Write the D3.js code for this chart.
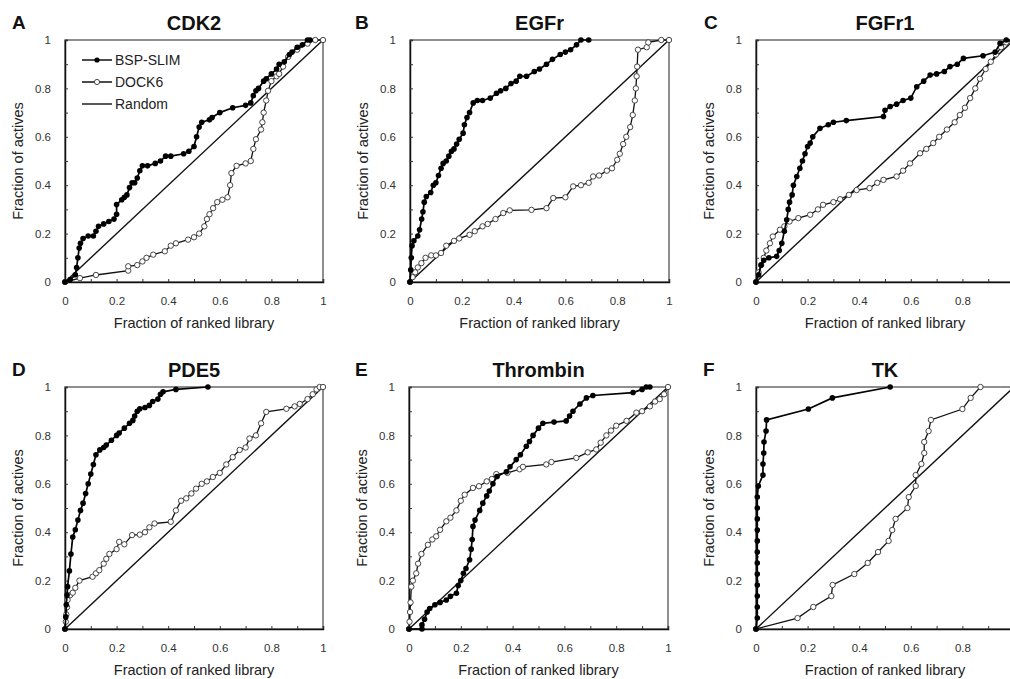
<!DOCTYPE html>
<html>
<head>
<meta charset="utf-8">
<script src="https://cdn.jsdelivr.net/npm/d3@7"></script>
<style>
  html, body { margin: 0; padding: 0; background: #fff; }
  svg { display: block; font-family: "Liberation Sans", Arial, sans-serif; }
</style>
</head>
<body>
<svg id="chart" width="1010" height="679"></svg>
<script>
// ---------- data ----------
const panelLetters = ["A", "B", "C", "D", "E", "F"];
const panelTitles = ["CDK2", "EGFr", "FGFr1", "PDE5", "Thrombin", "TK"];
const seriesNames = ["BSP-SLIM", "DOCK6", "Random"];
const majorTicks = [0, 0.2, 0.4, 0.6, 0.8, 1];
const tickLabels = ["0", "0.2", "0.4", "0.6", "0.8", "1"];
const minorTicks = [0, 0.1, 0.2, 0.3, 0.4, 0.5, 0.6, 0.7, 0.8, 0.9, 1];
const randomLine = [[0, 0], [1, 1]];

const cdk2Bsp = [[0,0],[0.02,0.01],[0.04,0.03],[0.045,0.06],[0.05,0.1],[0.055,0.14],[0.06,0.16],[0.07,0.18],[0.09,0.19],[0.11,0.19],[0.12,0.21],[0.13,0.23],[0.15,0.24],[0.17,0.25],[0.19,0.26],[0.2,0.28],[0.2,0.32],[0.22,0.34],[0.23,0.35],[0.24,0.36],[0.25,0.39],[0.26,0.41],[0.27,0.41],[0.28,0.43],[0.29,0.46],[0.3,0.48],[0.32,0.48],[0.35,0.49],[0.37,0.5],[0.39,0.52],[0.41,0.52],[0.46,0.53],[0.48,0.54],[0.5,0.56],[0.51,0.6],[0.52,0.64],[0.53,0.66],[0.56,0.67],[0.57,0.68],[0.6,0.7],[0.65,0.72],[0.7,0.73],[0.72,0.74],[0.73,0.77],[0.74,0.79],[0.75,0.8],[0.77,0.83],[0.78,0.84],[0.8,0.86],[0.82,0.88],[0.83,0.9],[0.85,0.91],[0.87,0.94],[0.88,0.95],[0.9,0.97],[0.92,0.98],[0.94,1.0],[0.95,1.0]];
const cdk2Dock = [[0,0],[0.058,0.016],[0.12,0.029],[0.245,0.047],[0.245,0.065],[0.28,0.07],[0.3,0.085],[0.316,0.1],[0.342,0.113],[0.387,0.127],[0.41,0.15],[0.43,0.16],[0.477,0.175],[0.5,0.185],[0.52,0.2],[0.54,0.23],[0.55,0.26],[0.56,0.28],[0.574,0.305],[0.59,0.33],[0.61,0.34],[0.63,0.35],[0.64,0.4],[0.645,0.45],[0.665,0.48],[0.7,0.49],[0.72,0.5],[0.73,0.55],[0.74,0.59],[0.76,0.63],[0.765,0.66],[0.77,0.7],[0.78,0.75],[0.787,0.79],[0.8,0.83],[0.82,0.85],[0.83,0.86],[0.845,0.89],[0.865,0.93],[0.9,0.96],[0.94,0.985],[0.97,1.0],[1.0,1.0]];

const egfrBsp = [[0,0],[0.003,0.05],[0.005,0.1],[0.008,0.15],[0.015,0.17],[0.03,0.19],[0.037,0.216],[0.045,0.26],[0.05,0.29],[0.055,0.33],[0.063,0.353],[0.08,0.37],[0.09,0.4],[0.1,0.41],[0.11,0.44],[0.12,0.47],[0.128,0.49],[0.14,0.5],[0.15,0.52],[0.16,0.54],[0.17,0.55],[0.18,0.57],[0.19,0.59],[0.205,0.615],[0.21,0.65],[0.22,0.68],[0.23,0.7],[0.244,0.74],[0.26,0.75],[0.28,0.75],[0.31,0.76],[0.334,0.78],[0.35,0.79],[0.37,0.8],[0.39,0.82],[0.41,0.83],[0.424,0.85],[0.45,0.85],[0.48,0.87],[0.5,0.88],[0.527,0.9],[0.55,0.92],[0.58,0.94],[0.6,0.95],[0.62,0.96],[0.643,0.98],[0.66,1.0],[0.69,1.0]];
const egfrDock = [[0,0],[0.01,0.02],[0.02,0.04],[0.03,0.06],[0.044,0.078],[0.06,0.1],[0.082,0.11],[0.1,0.11],[0.12,0.12],[0.14,0.15],[0.17,0.17],[0.19,0.18],[0.23,0.195],[0.25,0.21],[0.28,0.23],[0.3,0.24],[0.33,0.26],[0.36,0.285],[0.385,0.296],[0.469,0.298],[0.527,0.305],[0.553,0.347],[0.6,0.35],[0.63,0.395],[0.66,0.4],[0.69,0.41],[0.707,0.436],[0.73,0.44],[0.76,0.46],[0.78,0.47],[0.8,0.505],[0.81,0.53],[0.823,0.57],[0.835,0.6],[0.85,0.64],[0.86,0.69],[0.868,0.75],[0.872,0.8],[0.875,0.85],[0.877,0.89],[0.88,0.96],[0.914,0.97],[0.92,0.99],[0.97,1.0],[1.0,1.0]];

const fgfr1Bsp = [[0,0],[0.01,0.03],[0.02,0.07],[0.03,0.09],[0.05,0.1],[0.08,0.106],[0.09,0.13],[0.1,0.16],[0.11,0.21],[0.119,0.257],[0.125,0.3],[0.13,0.33],[0.14,0.36],[0.145,0.4],[0.158,0.436],[0.17,0.47],[0.18,0.5],[0.19,0.53],[0.2,0.56],[0.21,0.574],[0.22,0.6],[0.248,0.635],[0.28,0.65],[0.3,0.66],[0.35,0.667],[0.494,0.684],[0.5,0.71],[0.52,0.725],[0.545,0.735],[0.57,0.75],[0.6,0.76],[0.623,0.807],[0.65,0.83],[0.675,0.855],[0.7,0.86],[0.73,0.87],[0.752,0.89],[0.78,0.9],[0.804,0.924],[0.88,0.935],[0.927,0.95],[0.946,0.986],[0.97,1.0],[1.0,1.0]];
const fgfr1Dock = [[0,0],[0.01,0.04],[0.02,0.07],[0.03,0.1],[0.04,0.13],[0.054,0.16],[0.065,0.188],[0.093,0.216],[0.11,0.23],[0.13,0.25],[0.164,0.264],[0.21,0.278],[0.24,0.3],[0.26,0.319],[0.3,0.33],[0.326,0.342],[0.36,0.36],[0.39,0.38],[0.44,0.388],[0.47,0.41],[0.494,0.422],[0.545,0.436],[0.57,0.46],[0.597,0.49],[0.636,0.532],[0.66,0.55],[0.687,0.574],[0.71,0.6],[0.74,0.63],[0.77,0.66],[0.79,0.69],[0.81,0.72],[0.83,0.76],[0.85,0.8],[0.868,0.84],[0.89,0.88],[0.91,0.91],[0.93,0.94],[0.95,0.97],[0.97,0.99],[1.0,1.0]];

const pde5Bsp = [[0,0],[0.003,0.05],[0.005,0.1],[0.008,0.14],[0.01,0.175],[0.017,0.24],[0.023,0.31],[0.03,0.38],[0.04,0.41],[0.05,0.45],[0.06,0.49],[0.07,0.52],[0.08,0.56],[0.09,0.6],[0.1,0.64],[0.11,0.68],[0.12,0.72],[0.135,0.74],[0.15,0.75],[0.16,0.76],[0.18,0.78],[0.2,0.8],[0.21,0.81],[0.23,0.83],[0.25,0.85],[0.263,0.862],[0.27,0.88],[0.28,0.9],[0.29,0.91],[0.31,0.915],[0.327,0.924],[0.34,0.94],[0.36,0.95],[0.37,0.97],[0.38,0.98],[0.43,0.99],[0.554,1.0]];
const pde5Dock = [[0,0],[0.003,0.03],[0.005,0.06],[0.008,0.09],[0.01,0.12],[0.02,0.14],[0.03,0.15],[0.04,0.17],[0.056,0.2],[0.107,0.216],[0.12,0.23],[0.133,0.243],[0.15,0.27],[0.16,0.29],[0.172,0.31],[0.2,0.33],[0.21,0.36],[0.23,0.35],[0.26,0.388],[0.29,0.39],[0.31,0.4],[0.327,0.42],[0.347,0.436],[0.41,0.443],[0.43,0.49],[0.45,0.53],[0.47,0.54],[0.49,0.56],[0.508,0.58],[0.53,0.6],[0.55,0.61],[0.573,0.628],[0.6,0.645],[0.625,0.68],[0.65,0.71],[0.677,0.74],[0.7,0.75],[0.715,0.787],[0.74,0.8],[0.76,0.85],[0.78,0.897],[0.858,0.91],[0.89,0.92],[0.91,0.93],[0.94,0.95],[0.96,0.97],[0.975,0.99],[0.987,1.0],[1.0,1.0]];

const thrombinBsp = [[0,0],[0.05,0.0],[0.05,0.017],[0.06,0.04],[0.07,0.07],[0.08,0.085],[0.1,0.1],[0.12,0.11],[0.144,0.12],[0.16,0.135],[0.183,0.148],[0.19,0.18],[0.2,0.2],[0.21,0.23],[0.22,0.25],[0.234,0.286],[0.24,0.33],[0.244,0.37],[0.247,0.424],[0.255,0.45],[0.273,0.49],[0.285,0.52],[0.3,0.55],[0.31,0.57],[0.324,0.6],[0.34,0.63],[0.376,0.65],[0.39,0.67],[0.414,0.7],[0.43,0.72],[0.453,0.755],[0.465,0.775],[0.479,0.8],[0.5,0.83],[0.517,0.85],[0.56,0.855],[0.607,0.86],[0.62,0.88],[0.633,0.9],[0.66,0.93],[0.685,0.955],[0.71,0.965],[0.865,0.977],[0.9,0.99],[0.916,1.0],[0.93,1.0]];
const thrombinDock = [[0,0],[0.002,0.03],[0.004,0.07],[0.006,0.11],[0.009,0.175],[0.015,0.2],[0.028,0.23],[0.035,0.27],[0.048,0.31],[0.073,0.348],[0.09,0.37],[0.105,0.383],[0.12,0.41],[0.144,0.445],[0.16,0.46],[0.183,0.49],[0.2,0.53],[0.215,0.555],[0.247,0.583],[0.27,0.59],[0.3,0.61],[0.32,0.62],[0.337,0.64],[0.38,0.645],[0.427,0.66],[0.44,0.67],[0.53,0.68],[0.55,0.69],[0.646,0.707],[0.69,0.73],[0.723,0.742],[0.74,0.77],[0.762,0.8],[0.78,0.82],[0.8,0.84],[0.84,0.86],[0.878,0.894],[0.9,0.9],[0.93,0.92],[0.95,0.94],[0.968,0.95],[0.985,0.97],[1.0,1.0]];

const tkBsp = [[0,0],[0.005,0.045],[0.005,0.091],[0.005,0.136],[0.005,0.182],[0.005,0.227],[0.005,0.273],[0.005,0.318],[0.005,0.364],[0.005,0.409],[0.005,0.455],[0.005,0.5],[0.005,0.545],[0.009,0.591],[0.027,0.636],[0.027,0.682],[0.03,0.727],[0.031,0.773],[0.039,0.818],[0.041,0.864],[0.203,0.909],[0.296,0.955],[0.52,1.0]];
const tkDock = [[0,0],[0.161,0.045],[0.222,0.091],[0.292,0.136],[0.297,0.182],[0.381,0.227],[0.433,0.273],[0.473,0.318],[0.514,0.364],[0.528,0.409],[0.541,0.455],[0.587,0.5],[0.592,0.545],[0.619,0.591],[0.619,0.636],[0.641,0.682],[0.652,0.727],[0.652,0.773],[0.669,0.818],[0.678,0.864],[0.8,0.909],[0.832,0.955],[0.87,1.0]];

const bspSeries = [cdk2Bsp, egfrBsp, fgfr1Bsp, pde5Bsp, thrombinBsp, tkBsp];
const dockSeries = [cdk2Dock, egfrDock, fgfr1Dock, pde5Dock, thrombinDock, tkDock];

// ---------- layout ----------
const W = 1010;
const frames = [
  {x: 65,  y: 40,  w: 258, h: 242},
  {x: 410, y: 40,  w: 259, h: 242},
  {x: 756, y: 40,  w: 258, h: 242},
  {x: 65,  y: 387, w: 258, h: 242},
  {x: 409, y: 387, w: 259, h: 242},
  {x: 756, y: 387, w: 258, h: 242}
];
const letterX = [12, 355, 704, 12, 355, 703];

const svg = d3.select("#chart");

frames.forEach((f, i) => {
  const g = svg.append("g").attr("transform", `translate(${f.x},${f.y})`);
  const x = d3.scaleLinear().domain([0, 1]).range([0, f.w]);
  const y = d3.scaleLinear().domain([0, 1]).range([f.h, 0]);

  // frame (top/right)
  g.append("rect").attr("x", 0).attr("y", 0).attr("width", f.w).attr("height", f.h)
    .attr("fill", "none").attr("stroke", "#444").attr("stroke-width", 1.2);

  const fmt = v => {
    const k = majorTicks.findIndex(t => Math.abs(t - v) < 1e-6);
    return k >= 0 ? tickLabels[k] : "";
  };
  // x labels that would fall past the page edge are not shown (as in the reference)
  const fmtX = v => (f.x + x(v) + 4 > W ? "" : fmt(v));

  const xAxis = g.append("g").attr("transform", `translate(0,${f.h})`)
    .call(d3.axisBottom(x).tickValues(minorTicks).tickSize(-3).tickPadding(15).tickFormat(fmtX));
  const yAxis = g.append("g")
    .call(d3.axisLeft(y).tickValues(minorTicks).tickSize(-3).tickPadding(14).tickFormat(fmt));
  [xAxis, yAxis].forEach(a => {
    a.select(".domain").attr("stroke", "#111").attr("stroke-width", 1.5);
    a.selectAll(".tick line").attr("stroke", "#333").attr("stroke-width", 1);
    a.selectAll(".tick text").attr("fill", "#333")
      .style("font-size", "11.5px").style("font-family", "'Liberation Sans', Arial, sans-serif");
  });
  xAxis.selectAll(".tick text").filter(function () { return this.textContent === ""; }).remove();

  const line = d3.line().x(d => x(d[0])).y(d => y(d[1]));
  g.append("path").datum(randomLine).attr("d", line)
    .attr("fill", "none").attr("stroke", "#111").attr("stroke-width", 1.4);

  // DOCK6
  g.append("path").datum(dockSeries[i]).attr("d", line)
    .attr("fill", "none").attr("stroke", "#111").attr("stroke-width", 1.3);
  g.append("g").selectAll("circle").data(dockSeries[i]).join("circle")
    .attr("cx", d => x(d[0])).attr("cy", d => y(d[1])).attr("r", 2.7)
    .attr("fill", "#fff").attr("stroke", "#333").attr("stroke-width", 0.9);

  // BSP-SLIM
  g.append("path").datum(bspSeries[i]).attr("d", line)
    .attr("fill", "none").attr("stroke", "#000").attr("stroke-width", 1.7);
  g.append("g").selectAll("circle").data(bspSeries[i]).join("circle")
    .attr("cx", d => x(d[0])).attr("cy", d => y(d[1])).attr("r", 2.8)
    .attr("fill", "#000");

  g.append("text").attr("x", f.w / 2).attr("y", -10).attr("text-anchor", "middle")
    .style("font-size", "20px").style("font-weight", "bold").attr("fill", "#111")
    .text(panelTitles[i]);
  svg.append("text").attr("x", letterX[i]).attr("y", f.y - 11)
    .style("font-size", "19px").style("font-weight", "bold").attr("fill", "#111")
    .text(panelLetters[i]);

  g.append("text").attr("x", f.w / 2).attr("y", f.h + 46).attr("text-anchor", "middle")
    .style("font-size", "14.5px").attr("fill", "#222").text("Fraction of ranked library");
  g.append("text").attr("transform", "rotate(-90)")
    .attr("x", -f.h / 2).attr("y", -42).attr("text-anchor", "middle")
    .style("font-size", "14.5px").attr("fill", "#222").text("Fraction of actives");

  if (i === 0) {
    const rows = [20, 42, 64];
    const lg = g.append("g");
    seriesNames.forEach((name, k) => {
      lg.append("line").attr("x1", 17).attr("x2", 47).attr("y1", rows[k]).attr("y2", rows[k])
        .attr("stroke", "#111").attr("stroke-width", k === 2 ? 1.4 : 1.5);
      if (k === 0) lg.append("circle").attr("cx", 32).attr("cy", rows[k]).attr("r", 2.6).attr("fill", "#000");
      if (k === 1) lg.append("circle").attr("cx", 32).attr("cy", rows[k]).attr("r", 2.6)
        .attr("fill", "#fff").attr("stroke", "#333").attr("stroke-width", 0.9);
      lg.append("text").attr("x", 50).attr("y", rows[k]).attr("dy", "0.36em")
        .style("font-size", "14px").attr("fill", "#222").text(name);
    });
  }
});
</script>
</body>
</html>
